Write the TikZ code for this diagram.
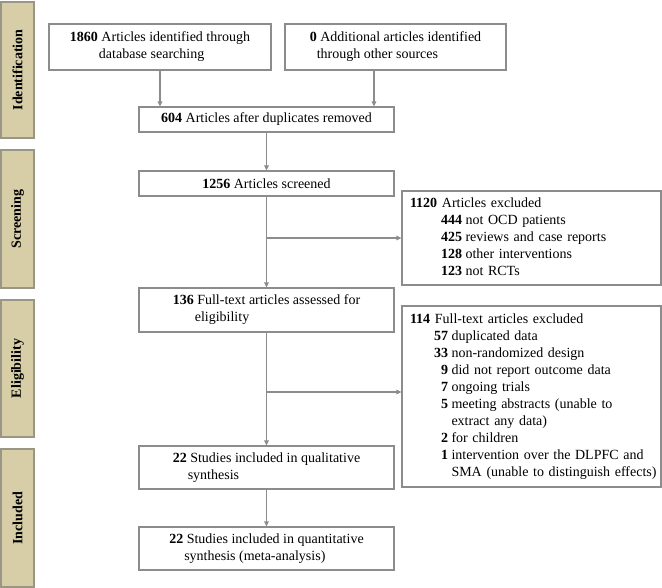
\documentclass[tikz,border=0pt]{standalone}
\usepackage{fontspec}
\setmainfont{Liberation Serif}
\usepackage{xcolor}
\usepackage{tikz}
\usetikzlibrary{positioning, arrows.meta, calc}
\definecolor{phasetan}{HTML}{D7CEA7}
\definecolor{phaseedge}{HTML}{9A9686}
\definecolor{boxgray}{HTML}{8C8C8C}

\tikzset{
  flowbox/.style={draw=boxgray, line width=1.1pt, fill=white, inner sep=0pt,
    minimum width=255pt, align=left, font=\fontsize{14}{17}\selectfont},
  exclbox/.style={draw=boxgray, line width=1.1pt, inner xsep=8pt, inner ysep=0pt,
    text width=243pt, align=left, font=\fontsize{14}{17}\selectfont},
  phase/.style={draw=phaseedge, fill=phasetan, line width=1.1pt, rotate=90,
    minimum height=33pt, inner sep=0pt, font=\bfseries\fontsize{14}{17}\selectfont},
  flowarrow/.style={draw=boxgray, line width=1.1pt, -{Triangle[length=5pt, width=4.5pt]}}
}

\begin{document}
\begin{tikzpicture}[x=1pt, y=-1pt]
    \useasboundingbox (0,0) rectangle (662,588);

    % phase bars
    \node[phase, minimum width=136pt] (idphase) at (17.5,70) {Identification};
    \node[phase, minimum width=138pt] (scphase) at (17.5,219) {Screening};
    \node[phase, minimum width=137pt] (elphase) at (17.5,368.5) {Eligibility};
    \node[phase, minimum width=138pt] (inphase) at (17.5,518) {Included};

    % main flow
    \node[flowbox, minimum width=222pt, minimum height=46pt] (dbsearch) at (160,47) {%
      \textbf{1860} Articles identified through\\\hspace*{29pt}database searching};
    \node[flowbox, minimum width=221pt, minimum height=46pt] (othersrc) at (395.5,47) {%
      \textbf{0} Additional articles identified\\\hspace*{7pt}through other sources};
    \node[flowbox, minimum height=25pt] (dedup) at (266.5,119.5) {%
      \textbf{604} Articles after duplicates removed};
    \node[flowbox, minimum height=25pt] (screened) at (266.5,183.5) {%
      \textbf{1256} Articles screened};
    \node[flowbox, minimum height=44pt] (fulltext) at (266.5,310) {%
      \textbf{136} Full-text articles assessed for\\\hspace*{22pt}eligibility};
    \node[flowbox, minimum height=43pt] (qualit) at (266.5,467.5) {%
      \textbf{22} Studies included in qualitative\\\hspace*{15pt}synthesis};
    \node[flowbox, minimum height=43pt] (quantit) at (266.5,548.5) {%
      \textbf{22} Studies included in quantitative\\\hspace*{15pt}synthesis (meta-analysis)};

    % exclusions
    \node[exclbox, minimum height=94pt] (scrout) at (531.5,238) {%
      \begin{tabular}{@{\hspace{31pt}}r@{\hspace{3.5pt}}l@{}}
        \multicolumn{2}{@{}l@{}}{\textbf{1120} Articles excluded}\\
        \textbf{444} & not OCD patients\\
        \textbf{425} & reviews and case reports\\
        \textbf{128} & other interventions\\
        \textbf{123} & not RCTs
      \end{tabular}};
    \node[exclbox, minimum height=181pt] (fullout) at (531.5,396.5) {%
      \begin{tabular}{@{\hspace{24pt}}r@{\hspace{3.5pt}}l@{}}
        \multicolumn{2}{@{}l@{}}{\textbf{114} Full-text articles excluded}\\
        \textbf{57} & duplicated data\\
        \textbf{33} & non-randomized design\\
        \textbf{9} & did not report outcome data\\
        \textbf{7} & ongoing trials\\
        \textbf{5} & meeting abstracts (unable to\\
                   & extract any data)\\
        \textbf{2} & for children\\
        \textbf{1} & intervention over the DLPFC and\\
                   & SMA (unable to distinguish effects)
      \end{tabular}};

    % connectors
    \coordinate (fullmid) at ([yshift=4.5pt]fullout.west);
    \draw[flowarrow] (dbsearch.south) -- (dbsearch.south |- dedup.north);
    \draw[flowarrow] ([xshift=-21.5pt]othersrc.south) -- ([xshift=-21.5pt]othersrc.south |- dedup.north);
    \draw[flowarrow] (dedup.south) -- (screened.north);
    \draw[flowarrow] (screened.south) -- (fulltext.north);
    \draw[flowarrow] (screened.south |- scrout.west) -- (scrout.west);
    \draw[flowarrow] (fulltext.south) -- (qualit.north);
    \draw[flowarrow] (fulltext.south |- fullmid) -- (fullmid);
    \draw[flowarrow] (qualit.south) -- (quantit.north);
\end{tikzpicture}
\end{document}
